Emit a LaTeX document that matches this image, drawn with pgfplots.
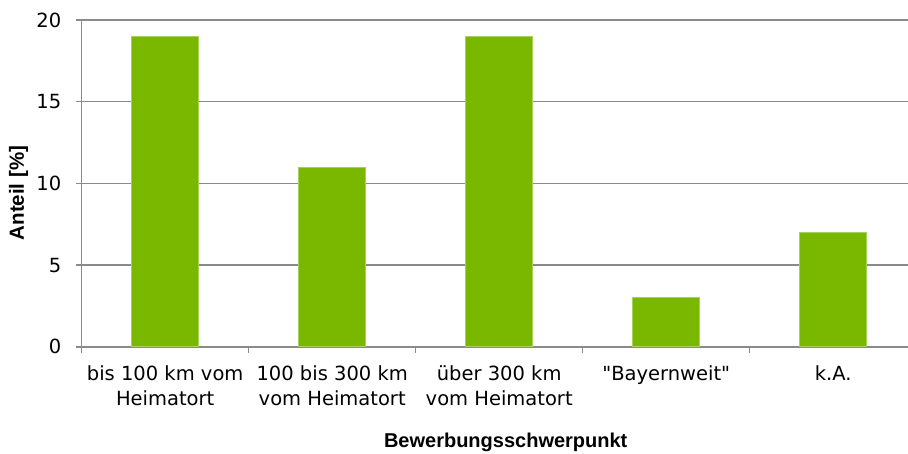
\documentclass[border=0pt]{standalone}
\usepackage{pgfplots}
\pgfplotsset{compat=1.18}
\usepackage{fontspec}
\setmainfont{DejaVu Sans}[Ligatures=TeXOff]
\newfontfamily\labfont{Liberation Sans}
\definecolor{barg}{HTML}{7AB800}
\definecolor{bare}{HTML}{A6D25A}
\definecolor{gridc}{HTML}{8A8A8A}
\begin{document}
\begin{tikzpicture}
\begin{axis}[
  at={(81.7pt,106.2pt)}, anchor=south west,
  scale only axis, width=835pt, height=326.8pt,
  xmin=-0.5, xmax=4.5, ymin=0, ymax=20,
  ybar, bar width=66.7pt,
  axis x line*=bottom, axis y line*=left,
  axis line style={gridc, line width=1.5pt},
  ytick={0,5,10,15,20},
  ymajorgrids, major grid style={gridc, line width=1.5pt},
  xtick={0,1,2,3,4},
  xticklabels={{bis 100 km vom\\Heimatort},{100 bis 300 km\\vom Heimatort},{über 300 km\\vom Heimatort},{"Bayernweit"},{k.A.}},
  major x tick style={draw=none},
  minor xtick={-0.5,0.5,1.5,2.5,3.5,4.5},
  tick align=outside, major tick length=6pt, minor tick length=6pt,
  tick style={gridc, line width=1.5pt},
  /pgf/number format/assume math mode=true,
  ticklabel style={font=\fontsize{19.5}{25.7}\selectfont, text=black},
  xticklabel style={align=center, yshift=-9pt},
  yticklabel style={xshift=-11pt},
  xlabel={\labfont\bfseries Bewerbungsschwerpunkt},
  ylabel={\labfont\bfseries Anteil [\%]},
  xlabel style={at={(axis description cs:0.5078,-0.3075)}, anchor=base, font=\fontsize{20}{24}\selectfont},
  ylabel style={at={(axis description cs:-0.0757,0.4706)}, anchor=center, font=\fontsize{20.5}{24}\selectfont},
  clip=false,
]
\addplot[fill=barg, draw=bare, line width=0.8pt] coordinates {(0,19) (1,11) (2,19) (3,3) (4,7)};
\end{axis}
\pgfresetboundingbox
\useasboundingbox (0pt,0pt) rectangle (908pt,453pt);
\end{tikzpicture}
\end{document}
